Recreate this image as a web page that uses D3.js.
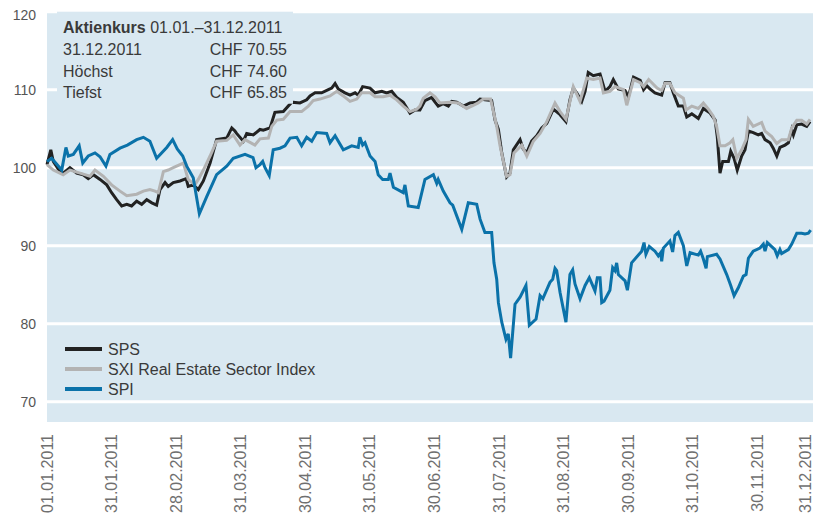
<!DOCTYPE html>
<html>
<head>
<meta charset="utf-8">
<script src="https://d3js.org/d3.v7.min.js"></script>
<style>
  body { margin: 0; background: #fff; }
  svg { font-family: "Liberation Sans", Arial, sans-serif; display: block; }
  .ylab { font-size: 14px; fill: #555; }
  .xlab { font-size: 16px; fill: #6f6f6f; }
  .note { font-size: 16px; fill: #3a3a3a; }
  .leg { font-size: 16px; fill: #3a3a3a; }
</style>
</head>
<body>
<svg id="chart" width="813" height="521"></svg>
<script>
// month-end labels on the x axis
var xLabels = ["01.01.2011","31.01.2011","28.02.2011","31.03.2011","30.04.2011","31.05.2011",
  "30.06.2011","31.07.2011","31.08.2011","30.09.2011","31.10.2011","30.11.2011","31.12.2011"];
var yTicks = [70, 80, 90, 100, 110, 120];

// [day of year, index value]
var sps = [[0,100.4],[1.8,102.3],[3,100.8],[5.4,99.8],[7.7,99.3],[10.9,100],[14.1,99.3],[17.2,99.1],
  [19.6,98.6],[22,99.1],[25.2,98.5],[28.4,97.8],[30.7,96.8],[33.1,95.9],[35.5,95.1],[37.9,95.3],
  [40.2,95.1],[42.6,95.7],[45,95.3],[47.4,95.9],[49.8,95.5],[52.1,95.2],[53.7,97.2],[56.1,98.1],
  [57.6,97.6],[60,98.1],[63.2,98.3],[66.1,98.6],[67.1,97.6],[69.5,97.8],[71.9,97.2],[74.3,98.3],
  [77.5,100.6],[80.6,103.6],[85.4,103.8],[87.8,105.1],[89.3,104.7],[90.1,104.4],[93.3,103.4],
  [94.9,104.4],[98,104.2],[101.2,104.9],[102.8,104.8],[106,105.1],[108.3,107.1],[112.3,107.2],
  [116.3,108.4],[120.2,108.3],[123.4,108.7],[125,109.2],[127.4,109.6],[130.5,109.6],[133.7,110],
  [135.3,110.2],[136.9,110.8],[138.4,110.1],[141.6,109.6],[144,109.3],[146.4,109.6],[147.9,109.3],
  [150,110.4],[153.5,110.2],[155.9,109.6],[159.1,109.8],[161.4,109.6],[163.8,109.8],[166.2,109],
  [169.3,108.4],[172.5,107],[174.9,107.4],[177.2,107.4],[179.6,108.6],[182.8,109],[184.4,108.4],
  [185.9,107.9],[188.3,108.2],[190.7,107.9],[192.3,108.5],[194.7,108.4],[197.9,107.9],[201,108.3],
  [204.2,108.4],[205.8,108.8],[208.1,108.7],[211.3,108.6],[212.9,106.1],[214.5,104.9],[216.1,101.9],
  [218.4,98.8],[220,99.3],[221.6,102.3],[224.8,103.6],[226.3,102.4],[228,101.9],[230.3,103.4],
  [232.7,104.1],[235.1,105.1],[237.5,105.7],[240.6,107.5],[243.8,106.8],[246.6,105.9],[248.5,108.7],
  [250.1,110.2],[251.7,109.6],[254.1,108.5],[255.7,109.8],[257.2,112.2],[259.6,111.8],[262.8,112],
  [265.2,109.8],[267.5,110.4],[269.1,111.3],[271.5,110.1],[274.7,109.9],[276.3,109.1],[278.7,111.6],
  [281.9,111.2],[283.5,110],[285,110.5],[286.5,110.1],[288.9,109.6],[292.1,109.3],[293.7,110.9],
  [296,110.9],[297.6,109.6],[300,107.9],[302.4,107.9],[304,106.5],[306.4,106.9],[309.5,106.3],
  [311.9,107.6],[315.1,107],[317.5,106.1],[318.5,104],[319.8,99.3],[321.1,100.8],[323.8,100.8],
  [324.9,102.1],[326.5,101.2],[328,99.7],[330.1,101.5],[331.7,102.3],[333.3,104.7],[335.6,104.5],
  [338,104.2],[339.6,104.4],[341.2,103.6],[343.6,103.2],[345.1,102.5],[346.8,101.5],[348.3,102.6],
  [350.7,102.9],[352.3,103.2],[353.9,104.9],[354.7,104.2],[356.3,105.5],[358.6,105.6],[361,105.3],
  [362.6,105.9]];

var sxi = [[0,100.4],[3,99.7],[7.7,99.1],[10.9,99.7],[15.7,99.3],[20.4,98.9],[22.8,99.7],[26.8,98.9],
  [30.7,97.8],[34.7,97],[37.9,96.4],[42.6,96.6],[45.8,97],[48.9,97.2],[51.3,97],[52.9,96.8],
  [55.3,99.5],[57.6,99.7],[60,100],[64.8,100.6],[67.1,98.5],[70.3,97.8],[71.9,98.5],[74.3,99.7],
  [77.5,101.5],[80.6,103.4],[85.4,103.5],[88.5,104.2],[91.7,102.9],[94.1,103.6],[98.8,102.9],
  [101.2,103.7],[105.2,103.8],[106.8,105.3],[109.2,106.1],[112.3,106.2],[115.5,107.2],[121,107.2],
  [124.2,107.9],[126.5,108.6],[129.7,108.8],[134.5,109.2],[137.7,109.8],[140.8,109.2],[144,108.5],
  [147.2,108.8],[149.5,109.6],[153.5,109.6],[155.9,109.1],[159.8,109.1],[163,109.3],[166.2,108.7],
  [169.3,107.9],[172.5,107.2],[175.7,107.5],[177.2,107.9],[178.8,108.9],[182,109.6],[184.4,109.1],
  [186.7,108.3],[191.5,108.4],[195.4,108.3],[199.4,107.6],[202.6,108],[204.9,108.3],[207.3,108.8],
  [210.8,108.8],[213.7,105.3],[215.3,102.8],[218.4,98.9],[220,99.1],[221.9,101.9],[225.6,102.9],
  [228,101.5],[231.1,103.4],[234.3,104.4],[237.5,105.9],[241.4,108.3],[243.8,107.2],[246.6,106.2],
  [250.1,110.4],[253.3,108.5],[256.5,111.5],[259.6,111.3],[262.8,111.5],[264.4,109.6],[267.5,109.8],
  [269.9,110.4],[273.9,110],[275.5,108],[278.7,111.3],[281.9,110.9],[283.5,110.4],[285.9,111.3],
  [289.9,110.2],[292.1,109.9],[293.7,110.8],[296,110.8],[298.4,109.6],[302.4,108.9],[303.7,107.4],
  [306.4,107.9],[309.5,107.6],[311.9,108.3],[314.3,107.5],[316.6,106.6],[318.2,105.3],[319.8,102.8],
  [322.2,102.8],[324.6,103.2],[325.9,103.6],[327.8,101.2],[330.1,102.3],[332.2,103.6],[333.3,106.2],
  [335.6,105.3],[339.6,105.8],[341.2,104.7],[344.4,104],[346.8,103.1],[349.1,103.6],[352.3,103.6],
  [353.9,105.1],[356.3,106.1],[358.6,106.1],[361,105.6],[362.6,106.2]];

var spi = [[0,100.8],[2.2,101.2],[7,99.7],[9,102.6],[10.1,101.5],[12.5,101.7],[15.3,102.8],[17,100.6],
  [19.6,101.5],[22.8,101.9],[25.2,101.4],[28,100.2],[29.9,101.7],[34.7,102.5],[38.2,102.9],
  [42.6,103.6],[45.8,103.9],[48.9,103.4],[52.1,101.2],[56.9,102.6],[59.7,103.6],[61.9,102.4],
  [64.5,101.5],[66.4,100.2],[69.5,98.7],[72.4,94.1],[75.9,96.3],[80.6,99.1],[85.4,100.2],[88.5,101.2],
  [94.1,101.7],[97.9,101.3],[99.3,100],[101.2,100.4],[102.5,100.8],[103.6,100],[105.6,99],
  [107.5,102.3],[110.7,102.5],[113.1,102.8],[115.5,103.8],[118.7,103.9],[121,102.8],[123.4,103.9],
  [125.8,103.4],[128.2,104.5],[132.9,104.4],[134.5,103.2],[136.9,104.1],[140.8,102.3],[144.8,102.8],
  [147.9,102.6],[148.7,103.9],[150,102.9],[151.1,103.2],[153.5,101.5],[155.9,100.8],[157.4,99.1],
  [159.5,98.5],[162.2,98.5],[163,99.3],[164.6,97.5],[169.3,96.8],[170.1,97.8],[171.7,95.1],
  [176.4,94.9],[179.6,98.5],[183.6,99.1],[185.2,98],[185.9,98.5],[188.3,97],[191.5,95.5],[192.8,95.2],
  [197.1,92.1],[200.2,95.5],[204.2,95.3],[205.8,93.4],[208.1,91.7],[211.3,91.7],[212.4,87.8],
  [213.7,85.7],[214.5,82.7],[216.1,80.2],[218.1,78],[219.2,78.7],[220.3,75.6],[222.4,82.5],
  [224.8,83.4],[227.6,84.9],[229.2,79.8],[232.4,80.6],[234.3,83.6],[235.6,83.2],[239,85.3],
  [240.3,85.7],[241.4,87.1],[242.2,86.8],[243.8,84],[246.6,80.2],[248.5,86.3],[249.8,86.9],
  [250.9,85.1],[253.3,83.2],[255.7,84.9],[257.7,85.9],[260.4,84.2],[261.5,85.9],[262.8,85.9],
  [263.6,82.7],[264.7,82.9],[267.5,84.3],[268.8,87.2],[269.9,86.8],[270.7,87.8],[271.5,86.3],
  [274.7,85.5],[275.8,84.3],[277.8,87.8],[282.6,89.3],[283.7,90.4],[284.6,88.9],[286.2,89.9],
  [288.9,89.3],[290.5,88.7],[291.6,89.1],[292.1,88],[292.9,89.7],[296,90.6],[297.3,89.2],[298.4,91.3],
  [300,91.7],[302.4,90],[304,87.4],[305.6,89.1],[309.5,88.8],[310.6,89.3],[311.9,88.3],[313.2,87.1],
  [313.8,88.6],[318.2,88.9],[319.8,88.3],[323,86.3],[324.9,84.9],[326.5,83.6],[328.5,84.6],
  [330.9,86.1],[332.2,86.3],[333.3,88.4],[335.6,89.3],[338.8,89.7],[340.4,90.2],[341.2,89.3],
  [342.3,90.4],[345.9,89.5],[347,88.7],[348.3,89.5],[349.1,89],[352.3,89.5],[353.9,90.2],
  [356.3,91.6],[358.6,91.6],[360.2,91.5],[361.8,91.6],[362.9,92]];

var noteRows = [["31.12.2011", "CHF 70.55"], ["Höchst", "CHF 74.60"], ["Tiefst", "CHF 65.85"]];
var seriesNames = ["SPS", "SXI Real Estate Sector Index", "SPI"];
var seriesColors = ["#222222", "#b3b3b3", "#0b72a9"];

var svg = d3.select("#chart");
var margin = { top: 11.7, right: 0, bottom: 99, left: 47 };
var W = +svg.attr("width"), H = +svg.attr("height");
var plotW = W - margin.left - margin.right;
var plotH = H - margin.top - margin.bottom;

var x = d3.scaleLinear().domain([0, 364]).range([margin.left, W]);
var y = d3.scaleLinear().domain([67.4, 120]).range([margin.top + plotH, margin.top]);
// month labels sit on an evenly spaced grid
var xl = d3.scalePoint().domain(xLabels).range([margin.left, margin.left + 775]);

svg.append("rect")
  .attr("x", margin.left).attr("y", margin.top)
  .attr("width", plotW).attr("height", plotH)
  .attr("fill", "#d9e8f1");

// grid
svg.append("g").selectAll("line").data(yTicks).join("line")
  .attr("x1", margin.left).attr("x2", W)
  .attr("y1", d => y(d)).attr("y2", d => y(d))
  .attr("stroke", "#fff").attr("stroke-width", 3);

svg.append("g").selectAll("text").data(yTicks).join("text")
  .attr("class", "ylab")
  .attr("x", 36).attr("y", d => Math.max(y(d), 15))
  .attr("text-anchor", "end").attr("dominant-baseline", "central")
  .text(d => d);

svg.append("g").selectAll("text").data(xLabels).join("text")
  .attr("class", "xlab")
  .attr("text-anchor", "end")
  .attr("transform", d => "translate(" + Math.min(xl(d) + 5.5, W - 2) + ",434) rotate(-90)")
  .text(d => d);

// lines
var line = d3.line().x(d => x(d[0])).y(d => y(d[1]));
[sps, sxi, spi].forEach(function(s, i) {
  svg.append("path").datum(s)
    .attr("d", line)
    .attr("fill", "none")
    .attr("stroke", seriesColors[i])
    .attr("stroke-width", 3);
});

// note box
var note = svg.append("g");
note.append("rect").attr("x", 57).attr("y", margin.top)
  .attr("width", 236).attr("height", 92).attr("fill", "#d9e8f1");
var t0 = note.append("text").attr("class", "note").attr("x", 63).attr("y", 33);
t0.append("tspan").attr("font-weight", "bold").text("Aktienkurs");
t0.append("tspan").text(" 01.01.–31.12.2011");
note.selectAll("text.r1").data(noteRows).join("text")
  .attr("class", "note r1").attr("x", 63).attr("y", (d, i) => 55 + i * 21.5)
  .text(d => d[0]);
note.selectAll("text.r2").data(noteRows).join("text")
  .attr("class", "note r2").attr("x", 287).attr("y", (d, i) => 55 + i * 21.5)
  .attr("text-anchor", "end")
  .text(d => d[1]);

// legend
var leg = svg.append("g").selectAll("g").data(seriesNames).join("g")
  .attr("transform", (d, i) => "translate(65," + (349 + i * 20) + ")");
leg.append("line").attr("x1", 0).attr("x2", 37)
  .attr("stroke", (d, i) => seriesColors[i]).attr("stroke-width", 4);
leg.append("text").attr("class", "leg").attr("x", 43).attr("y", 6).text(d => d);
</script>
</body>
</html>
